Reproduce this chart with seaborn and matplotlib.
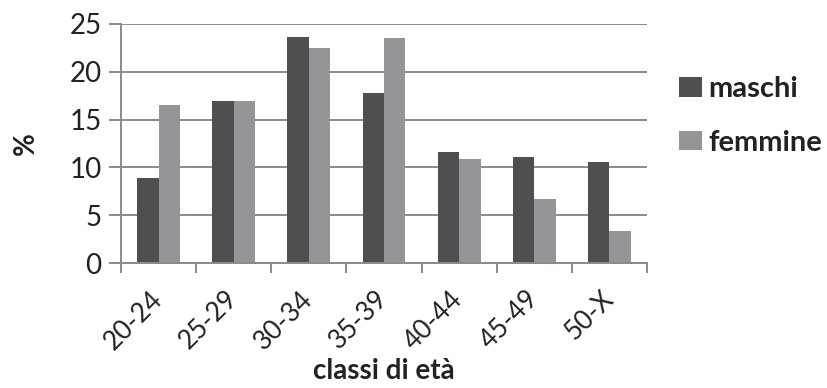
import matplotlib
matplotlib.use("Agg")
import matplotlib.pyplot as plt
import seaborn as sns
import pandas as pd
from matplotlib.ticker import FixedLocator

categories = ["20-24", "25-29", "30-34", "35-39", "40-44", "45-49", "50-X"]
maschi = [8.9, 16.9, 23.6, 17.8, 11.6, 11.1, 10.6]
femmine = [16.5, 16.9, 22.5, 23.5, 10.9, 6.7, 3.3]
series_names = ["maschi", "femmine"]
y_ticks = [0, 5, 10, 15, 20, 25]

df = pd.DataFrame({
    "classe": categories * 2,
    "valore": maschi + femmine,
    "sesso": [series_names[0]] * len(categories) + [series_names[1]] * len(categories),
})

sns.set_theme(style="white")
plt.rcParams["font.family"] = ["Lato", "DejaVu Sans"]

fig = plt.figure(figsize=(8.28, 3.88), dpi=100)
ax = fig.add_axes([121 / 828, 1 - 263 / 388, (647 - 121) / 828, (263 - 24) / 388])

grid_c = "#8a8a8a"
sns.barplot(data=df, x="classe", y="valore", hue="sesso", order=categories,
            hue_order=series_names, palette=["#4f4f51", "#949598"],
            width=0.57, saturation=1, ax=ax, linewidth=0, errorbar=None)

ax.set_xlim(-0.5, len(categories) - 0.5)
ax.set_ylim(0, 25)
ax.set_yticks(y_ticks)
ax.yaxis.grid(True, color=grid_c, linewidth=1.4)
ax.set_axisbelow(True)

for s in ["top", "right"]:
    ax.spines[s].set_visible(False)
for s in ["left", "bottom"]:
    ax.spines[s].set_color(grid_c)
    ax.spines[s].set_linewidth(1.4)

ax.tick_params(axis="y", which="major", length=9, width=1.4, color=grid_c,
               labelsize=20, labelcolor="#222222", pad=5, left=True)
ax.tick_params(axis="x", which="major", length=0, labelsize=19,
               labelcolor="#222222", pad=23)
ax.xaxis.set_minor_locator(FixedLocator([i - 0.5 for i in range(len(categories) + 1)]))
ax.tick_params(axis="x", which="minor", length=7, width=1.4, color=grid_c,
               bottom=True, direction="out")
for lbl in ax.get_xticklabels():
    lbl.set_rotation(45)
    lbl.set_ha("right")
    lbl.set_rotation_mode("anchor")
    lbl.set_va("center")

ax.set_xlabel("classi di età", fontsize=20, fontweight="bold", color="#222222", labelpad=3)
ax.set_ylabel("%", fontsize=20, fontweight="bold", color="#222222", labelpad=22)

leg = ax.legend(loc="center left", bbox_to_anchor=(679 / 828, 1 - 116 / 388),
                bbox_transform=fig.transFigure, frameon=False, fontsize=21,
                handlelength=0.8, handleheight=0.65, handletextpad=0.2,
                labelspacing=0.95, borderpad=0, borderaxespad=0)
for t in leg.get_texts():
    t.set_fontweight("bold")
    t.set_color("#222222")

fig.savefig("out.png", dpi=100)
